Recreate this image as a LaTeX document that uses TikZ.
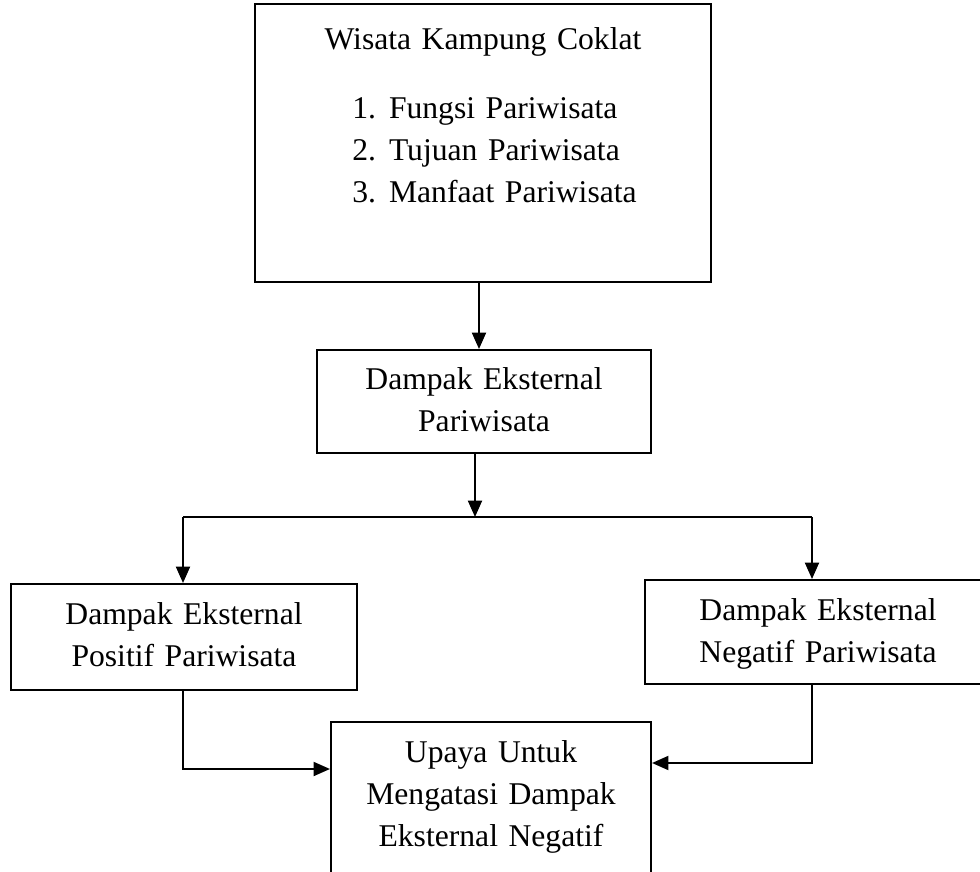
\documentclass[tikz,border=0pt]{standalone}
\usepackage{fontspec}
\setmainfont{Liberation Serif}
\usepackage{tikz}
\usetikzlibrary{arrows.meta,positioning}

\begin{document}
\begin{tikzpicture}[
  flowbox/.style={rectangle, draw=black, line width=1.8pt, align=center, inner sep=0pt,
    anchor=north, font=\fontsize{27}{35.9}\selectfont},
  arr/.style={-{Triangle[length=14pt,width=12pt]}, line width=1.6pt, draw=black},
  link/.style={line width=1.6pt, draw=black}
]

\useasboundingbox (0,0) rectangle (29.4,-26.16);
\clip (0,0) rectangle (29.4,-26.16);

\node[flowbox, text width=13.68cm, text height=1.35cm, text depth=6.99cm] (wisata) at (14.49,-0.09)
  {Wisata Kampung Coklat\\[0.81cm]
   \hspace*{0.69cm}\begin{tabular}[t]{@{}l@{\hspace{0.39cm}}l@{}}
   1. & Fungsi Pariwisata\\
   2. & Tujuan Pariwisata\\
   3. & Manfaat Pariwisata
   \end{tabular}};
\node[flowbox, text width=10.02cm, text height=1.17cm, text depth=1.92cm] (ekst) at (14.52,-10.47)
  {Dampak Eksternal\\ Pariwisata};
\node[flowbox, text width=10.38cm, text height=1.2cm, text depth=1.98cm] (positif) at (5.52,-17.49)
  {Dampak Eksternal\\ Positif Pariwisata};
\node[flowbox, text width=10.38cm, text height=1.2cm, text depth=1.92cm] (negatif) at (24.54,-17.37)
  {Dampak Eksternal\\ Negatif Pariwisata};
\node[flowbox, text width=9.6cm, text height=1.2cm, text depth=3.87cm] (upaya) at (14.73,-21.63)
  {Upaya Untuk\\ Mengatasi Dampak\\ Eksternal Negatif};

\coordinate (split) at (14.25,-15.51);
\coordinate (splitL) at (5.49,-15.51);
\coordinate (splitR) at (24.36,-15.51);

\draw[arr] (wisata.south -| 14.37,0) -- (14.37,0 |- ekst.north);
\draw[arr] (ekst.south -| split) -- (split);
\draw[link] (splitL) -- (splitR);
\draw[arr] (splitL) -- (splitL |- positif.north);
\draw[arr] (splitR) -- (splitR |- negatif.north);
\draw[arr] (splitL |- positif.south) |- ([yshift=-1.44cm]upaya.north west);
\draw[arr] (splitR |- negatif.south) |- ([yshift=-1.26cm]upaya.north east);

\end{tikzpicture}
\end{document}
